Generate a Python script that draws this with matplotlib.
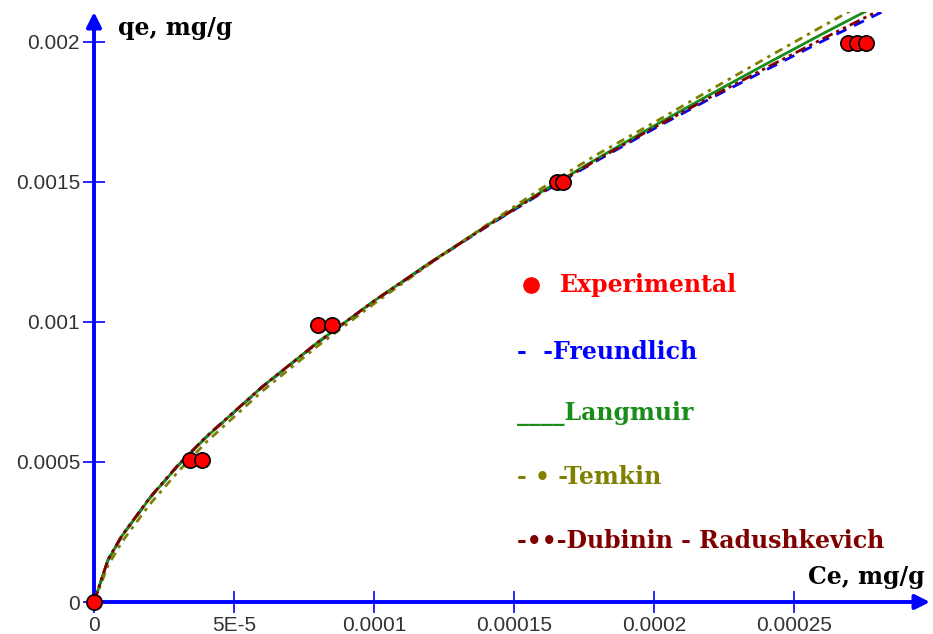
import matplotlib
matplotlib.use("Agg")
import matplotlib.pyplot as plt

# experimental points (Ce, qe in mg/g)
ce_exp = [0, 3.43e-5, 3.86e-5, 8.0e-5, 8.5e-5, 1.655e-4, 1.675e-4, 2.693e-4, 2.725e-4, 2.757e-4]
qe_exp = [0, 0.000507, 0.000507, 0.000989, 0.000989, 0.0015, 0.0015, 0.001996, 0.001996, 0.001996]

# model curves
ce_fit = [0, 0.5e-5, 1e-5, 2e-5, 3e-5, 4e-5, 6e-5, 8e-5, 10e-5, 12e-5, 14e-5,
          16e-5, 18e-5, 20e-5, 22e-5, 24e-5, 26e-5, 28e-5, 29e-5]
q_freundlich = [0, 0.000150, 0.000236, 0.000372, 0.000487, 0.000588, 0.000767, 0.000927,
                0.001074, 0.001210, 0.001339, 0.001461, 0.001578, 0.001690, 0.001797,
                0.001900, 0.002002, 0.002100, 0.002148]
q_langmuir = [0, 0.000150, 0.000236, 0.000372, 0.000487, 0.000588, 0.000768, 0.000928,
              0.001075, 0.001212, 0.001342, 0.001466, 0.001585, 0.001700, 0.001812,
              0.001921, 0.002028, 0.002132, 0.002183]
q_temkin = [0, 0.000130, 0.000215, 0.000350, 0.000465, 0.000570, 0.000752, 0.000915,
            0.001065, 0.001208, 0.001345, 0.001478, 0.001600, 0.001712, 0.001828,
            0.001942, 0.002055, 0.002165, 0.002220]
q_dubinin = [0, 0.000152, 0.000238, 0.000374, 0.000489, 0.000590, 0.000768, 0.000928,
             0.001075, 0.001211, 0.001340, 0.001463, 0.001581, 0.001694, 0.001802,
             0.001907, 0.002010, 0.002110, 0.002160]

x_ticks = [0, 5e-5, 1e-4, 1.5e-4, 2e-4, 2.5e-4]
x_ticklabels = ["0", "5E-5", "0.0001", "0.00015", "0.0002", "0.00025"]
y_ticks = [0, 0.0005, 0.001, 0.0015, 0.002]
y_ticklabels = ["0", "0.0005", "0.001", "0.0015", "0.002"]

legend_labels = ["Experimental", "-  -Freundlich", "____Langmuir", "- \u2022 -Temkin",
                 "-\u2022\u2022-Dubinin - Radushkevich"]

W, H = 933, 634
fig = plt.figure(figsize=(W / 100, H / 100), dpi=100)
ax = fig.add_axes([94 / W, (H - 602) / H, (930 - 94) / W, 590 / H])
ax.set_xlim(0, 2.986e-4)
ax.set_ylim(0, 0.002107)

for s in ax.spines.values():
    s.set_visible(False)

# curves
ax.plot(ce_fit, q_freundlich, color="#0000ff", lw=2.0, dashes=(4, 3), zorder=3)
ax.plot(ce_fit, q_langmuir, color="#1a8c1a", lw=2.0, zorder=4)
ax.plot(ce_fit, q_temkin, color="#808000", lw=2.0, dashes=(3, 2, 1.2, 2), zorder=4)
ax.plot(ce_fit, q_dubinin, color="#800000", lw=2.0, dashes=(4, 1.5, 1.2, 1.5, 1.2, 1.5), zorder=5)

ax.plot(ce_exp, qe_exp, "o", color="#ff0000", mec="black", mew=1.2, ms=11,
        zorder=6, clip_on=False)

# blue axes with arrows
arrow = dict(arrowstyle="-|>", color="#0000ff", lw=2.8, mutation_scale=22,
             shrinkA=0, shrinkB=0)
ax.annotate("", xy=(1.0, 0), xytext=(0, 0), xycoords="axes fraction",
            arrowprops=arrow, zorder=2)
ax.annotate("", xy=(0, 1.0), xytext=(0, 0), xycoords="axes fraction",
            arrowprops=arrow, zorder=2)

ax.set_xticks(x_ticks)
ax.set_xticklabels(x_ticklabels)
ax.set_yticks(y_ticks)
ax.set_yticklabels(y_ticklabels)
ax.tick_params(direction="inout", length=16, width=1.2, color="#0000ff",
               labelcolor="#333333", labelsize=15, pad=2)
for lab in ax.get_xticklabels() + ax.get_yticklabels():
    lab.set_family("Liberation Sans")

serif = dict(family="DejaVu Serif", fontweight="bold", fontsize=17)
fig.text(118 / W, 1 - 28 / H, "qe, mg/g", va="center", ha="left", color="black", **serif)
fig.text(925 / W, 1 - 577 / H, "Ce, mg/g", va="center", ha="right", color="black", **serif)

# legend drawn as text, like the original
leg_colors = ["#ff0000", "#0000ff", "#1a8c1a", "#808000", "#800000"]
leg_y = [285, 352, 414, 477, 541]
fig.lines.append(plt.Line2D([531 / W], [1 - 285 / H], marker="o", color="#ff0000",
                            ms=11, transform=fig.transFigure))
for i, (lab, c, yy) in enumerate(zip(legend_labels, leg_colors, leg_y)):
    x0 = 560 if i == 0 else 517
    fig.text(x0 / W, 1 - yy / H, lab, color=c, va="center", ha="left", **serif)

fig.savefig("out.png", dpi=100)
